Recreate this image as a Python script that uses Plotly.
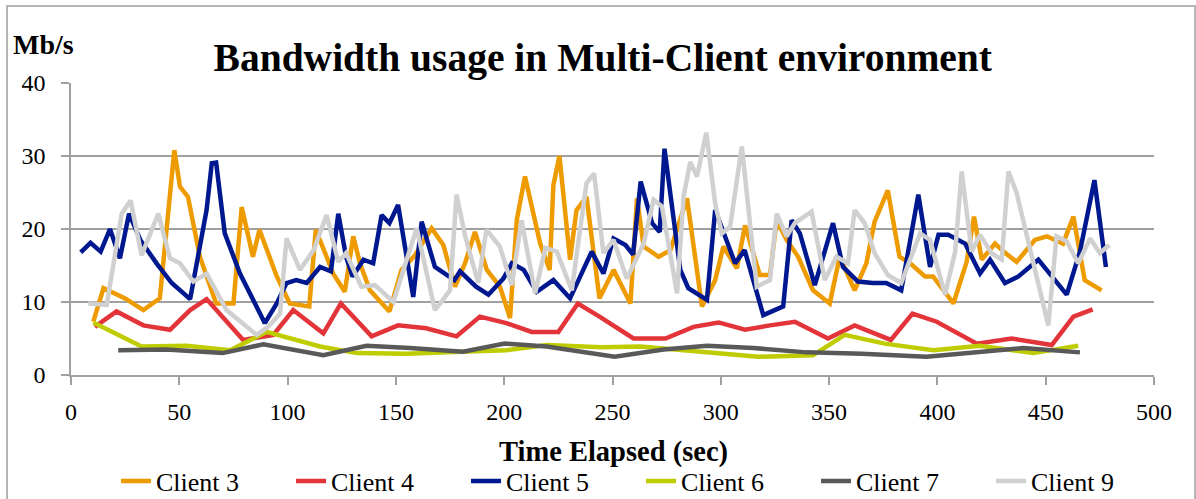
import plotly.graph_objects as go

# ---- data (time in sec, bandwidth in Mb/s) ----
c3_t = [10.3, 15, 25, 33.4, 41, 47.7, 50.3, 54, 59.5, 67, 75, 78.8, 84, 87, 95, 101, 110, 113, 118, 121,
        126.4, 130.3, 133.4, 138, 147, 152.6, 158.8, 166.5, 171.9, 177.3, 181.9, 186.5, 192, 198, 202.7,
        205.8, 209.6, 216.6, 221, 222.7, 225.5, 230.4, 233.4, 238, 244, 250.5, 258.3, 261.3, 264.4, 271.3,
        276.7, 284.4, 291.3, 297.4, 301.2, 307.4, 311.2, 318, 322.7, 325.8, 330.4, 335.7, 342.6, 350.3,
        354.9, 361.8, 367.2, 371, 377.1, 382.5, 387.4, 394.3, 398, 407.4, 413.5, 416.9, 420.5, 426.6,
        430.5, 436.6, 445, 450.5, 458, 462.8, 468, 475.8]
c3_v = [7.3, 11.9, 10.5, 8.9, 10.5, 30.8, 25.8, 24.4, 16.2, 9.8, 9.8, 23, 16.2, 19.9, 13.5, 9.8, 9.4, 19.9, 16.2, 13.9,
        11.4, 19, 15.3, 11.6, 8.7, 14.4, 16.4, 20.1, 17.8, 12.1, 15.3, 19.6, 14.4, 12.1, 7.8,
        21.2, 27.2, 18, 14.4, 26, 30, 15.8, 22.6, 24.4, 10.5, 14.4, 9.8, 24.2, 17.6, 16.2,
        17.1, 24.2, 9.4, 13, 17.6, 14.6, 20.5, 13.7, 13.7, 21.2, 18.5, 16.2, 11.6, 9.8,
        16.2, 11.6, 15.3, 21, 25.3, 16.2, 15.3, 13.5, 13.5, 9.8, 15.5, 21.7, 15.8, 18,
        16.9, 15.5, 18.5, 19, 18, 21.7, 13, 11.6]

c4_t = [11, 21, 33.4, 45.7, 55, 62.6, 79.5, 93.4, 102.6, 116.5, 124.6, 138.8, 151, 164, 178, 188.8, 201,
        212.7, 225, 234, 244, 259.7, 274.4, 287.4, 299, 311.2, 322.7, 334.2, 349.5, 361.8, 378.5, 388.5,
        399.7, 418.2, 434.3, 452.8, 462.8, 471.7]
c4_v = [6.6, 8.7, 6.8, 6.2, 8.9, 10.4, 4.8, 5.5, 8.9, 5.7, 9.8, 5.3, 6.8, 6.4, 5.3, 8, 7.1,
        5.9, 5.9, 9.8, 8, 5, 5, 6.6, 7.2, 6.2, 6.8, 7.3, 5, 6.8, 4.8, 8.4,
        7.3, 4.3, 5, 4.1, 8, 9]

c5_t = [4.5, 9, 13.7, 18, 22.6, 26.8, 32, 39.5, 46.5, 55, 62.6, 65, 67, 71, 78, 89.5, 95, 99.5, 104, 108.8,
        115, 120, 123.4, 127, 130, 135, 139.5, 143.4, 147, 151, 158, 161.9, 168, 177, 179.6, 187, 192.7,
        199.6, 203.5, 209, 215, 222.7, 230.4, 240.4, 245.8, 250.5, 256, 259.5, 263, 268.3, 271.8, 274,
        281.3, 285, 293.6, 297.4, 306.6, 311, 319.6, 328.8, 332.7, 336.5, 343.4, 351.8, 356.4, 363.3,
        370.2, 376.4, 383.3, 391.2, 396.6, 400.5, 405, 412.8, 419.7, 424.3, 431.2, 437.4, 446.6, 459.7,
        465.8, 472.5, 477.8]
c5_v = [16.8, 18.1, 16.9, 20, 16, 22.1, 18.5, 15.3, 12.6, 10.4, 22.6, 29, 29.1, 19.4, 13.9, 7.1, 9.8, 12.6, 13, 12.6,
        14.8, 14.2, 22.1, 16.2, 13.5, 15.8, 15.3, 21.9, 20.8, 23.3, 10.7, 21, 14.8, 13, 14.2, 12.1, 11,
        13.2, 15.3, 14.4, 11.4, 13, 10.5, 16.9, 13.9, 18.7, 17.8, 16.5, 26.5, 20.8, 19.6, 31,
        14.4, 11.9, 10.3, 22.6, 15.3, 17.1, 8.2, 9.4, 21.2, 19.4, 12.3, 20.8, 14.8, 12.8,
        12.6, 12.6, 11.6, 24.7, 14.8, 19.2, 19.2, 18, 13.9, 15.8, 12.6, 13.5, 15.8, 11,
        16.9, 26.7, 14.8]

c6_t = [10.3, 32.6, 53.4, 73.4, 90.3, 115, 132, 155, 180, 201, 219.6, 245, 263, 290, 317.4, 342.6, 357.2,
        375.6, 398.2, 419.7, 444.3, 465]
c6_v = [7.2, 3.9, 4.0, 3.4, 5.9, 3.9, 3.0, 2.9, 3.2, 3.4, 4.1, 3.8, 3.9, 3.2, 2.5, 2.7, 5.5,
        4.3, 3.4, 4.0, 3.0, 4.0]

c7_t = [21.8, 44, 70, 88.8, 116.5, 136.4, 156.5, 181, 200.2, 219.6, 251, 273.6, 293.6, 315, 339.6, 365,
        395, 420, 439.7, 465.8]
c7_v = [3.4, 3.5, 3.0, 4.2, 2.7, 4.0, 3.7, 3.2, 4.3, 3.9, 2.5, 3.5, 4.0, 3.7, 3.1, 2.9,
        2.5, 3.2, 3.7, 3.1]

c9_t = [8, 16.5, 23.4, 27.5, 32.6, 40.3, 45.7, 50.3, 56.5, 62.6, 71.8, 85.7, 91, 96.5, 99.5, 105.7, 112,
        118, 123.4, 127, 134, 140.3, 148.8, 159.6, 168, 175, 178, 182, 188, 191.8, 198, 203.5, 208,
        214.3, 219, 224.3, 231.2, 238, 241.5, 245.8, 250.5, 256.6, 264.4, 269, 272.8, 279.8, 282.8,
        285.9, 289, 293.3, 297.4, 300.5, 304.3, 309.7, 316.6, 322.7, 325.8, 330.4, 334.2, 341.9, 348,
        353.4, 358.7, 361.8, 366.4, 371, 377.1, 383.3, 392, 396.6, 403.5, 408.2, 411.2, 415.8, 419.7,
        425, 429.7, 432.8, 436.6, 451.2, 455, 459.7, 465, 470.5, 475, 479.4]
c9_v = [9.8, 9.6, 22.1, 23.9, 16.4, 22.1, 16, 15.3, 12.8, 13.9, 8.9, 5.5, 6.6, 8.4, 18.7, 14.4, 17.1,
        21.9, 15.5, 16.7, 12.1, 12.3, 10, 20.1, 8.9, 11.6, 24.7, 19, 12.6, 19.9, 17.6, 12.3, 21.2,
        11.2, 17.4, 16.9, 11.6, 26.3, 27.6, 16.7, 18.5, 13.2, 18, 24, 23.1, 11.2, 24.4,
        29.2, 27.2, 33.2, 23.5, 19.4, 20.3, 31.3, 12.1, 13, 22.1, 19, 20.8, 22.4, 13,
        16.2, 15.3, 22.6, 20.8, 16.7, 13.7, 12.6, 19.4, 18.5, 11, 16.9, 27.9, 16.9, 19.2,
        16.7, 15.8, 27.9, 24.9, 6.8, 19, 18.3, 15.3, 18.7, 16.7, 17.8]

series_names = ["Client 3", "Client 4", "Client 5", "Client 6", "Client 7", "Client 9"]
series_t = [c3_t, c4_t, c5_t, c6_t, c7_t, c9_t]
series_v = [c3_v, c4_v, c5_v, c6_v, c7_v, c9_v]
series_colors = ["#EE9B00", "#E3343A", "#00188F", "#BFCC00", "#595959", "#D0D0D0"]

x_ticks = [0, 50, 100, 150, 200, 250, 300, 350, 400, 450, 500]
y_ticks = [0, 10, 20, 30, 40]

FONT = "Liberation Serif"
GRID = "#A0A0A0"

fig = go.Figure()
for name, t, v, c in zip(series_names, series_t, series_v, series_colors):
    fig.add_trace(go.Scatter(x=t, y=v, mode="lines", name=name,
                             line=dict(color=c, width=4.5, shape="linear")))

fig.update_layout(
    width=1196, height=499,
    margin=dict(l=71, r=42, t=83, b=124, autoexpand=False),
    paper_bgcolor="white", plot_bgcolor="white",
    font=dict(family=FONT, color="black", size=22),
    title=dict(text="<b>Bandwidth usage in Multi-Client environment</b>",
               font=dict(family=FONT, size=39.5, color="black"),
               x=0.504, xref="container", xanchor="center",
               y=1 - 57 / 499, yref="container", yanchor="middle"),
    showlegend=True,
    legend=dict(orientation="h", x=(116 - 71) / 1083, xanchor="left",
                y=(375 - 481) / 292, yanchor="middle",
                font=dict(family=FONT, size=26, color="black"),
                entrywidth=130, entrywidthmode="pixels",
                bgcolor="rgba(0,0,0,0)", tracegroupgap=0),
)

fig.update_xaxes(range=[0, 500], tickvals=x_ticks, ticktext=[str(x) for x in x_ticks],
                 showgrid=False, zeroline=False, showline=True, linecolor=GRID, linewidth=1.5,
                 ticks="outside", ticklen=8, tickcolor=GRID, tickwidth=1.5,
                 tickfont=dict(family=FONT, size=24, color="black"), ticklabelstandoff=6)
fig.update_yaxes(range=[0, 40], tickvals=y_ticks, ticktext=[str(y) for y in y_ticks],
                 showgrid=True, gridcolor=GRID, gridwidth=1.5, zeroline=False,
                 showline=True, linecolor=GRID, linewidth=1.5,
                 ticks="outside", ticklen=8, tickcolor=GRID, tickwidth=1.5,
                 tickfont=dict(family=FONT, size=24, color="black"), ticklabelstandoff=11)

fig.add_annotation(text="<b>Mb/s</b>", xref="paper", yref="paper",
                   x=(11 - 71) / 1083, y=(375 - 45) / 292, xanchor="left", yanchor="middle",
                   showarrow=False, font=dict(family=FONT, size=28, color="black"))
fig.add_annotation(text="<b>Time Elapsed (sec)</b>", xref="paper", yref="paper",
                   x=(613 - 71) / 1083, y=(375 - 452) / 292, xanchor="center", yanchor="middle",
                   showarrow=False, font=dict(family=FONT, size=28.5, color="black"))

# outer chart frame
fig.add_shape(type="rect", xref="paper", yref="paper",
              x0=(7 - 71) / 1083, x1=(1195 - 71) / 1083,
              y0=(375 - 520) / 292, y1=(375 - 6) / 292,
              line=dict(color="#A0A0A0", width=1.5), fillcolor="rgba(0,0,0,0)", layer="below")

# remove the default 8px page margin so the figure sits at the window origin
fig.write_html("out.html", config={"displayModeBar": False},
               post_script="document.body.style.margin='0';")
